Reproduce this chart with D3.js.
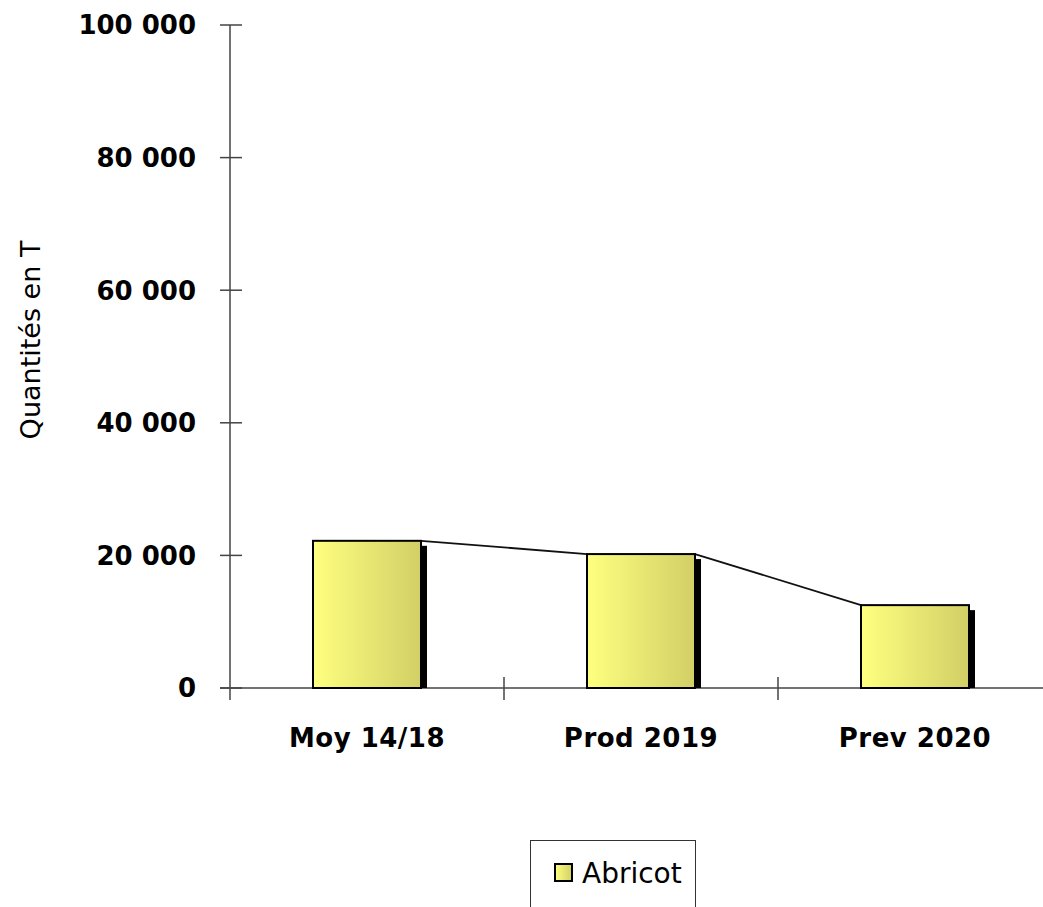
<!DOCTYPE html>
<html><head><meta charset="utf-8">
<script src="https://cdn.jsdelivr.net/npm/d3@7"></script>
<style>body{margin:0;background:#fff}svg{display:block}text{font-family:"Comic Sans MS","DejaVu Sans",sans-serif}</style>
</head><body>
<script>
const categories = ["Moy 14/18", "Prod 2019", "Prev 2020"];
const values = [22200, 20200, 12500];
const yTicks = [0, 20000, 40000, 60000, 80000, 100000];
const seriesName = "Abricot";
const yTitle = "Quantités en T";

const W = 1043, H = 907;
const svg = d3.select("body").append("svg").attr("width", W).attr("height", H);
const defs = svg.append("defs");
const grad = defs.append("linearGradient").attr("id", "g").attr("x1", "0%").attr("x2", "100%");
grad.append("stop").attr("offset", "0%").attr("stop-color", "#ffff80");
grad.append("stop").attr("offset", "100%").attr("stop-color", "#d2cf66");

const x = d3.scaleBand().domain(categories).range([230, 1052]).paddingInner(0).paddingOuter(0);
const y = d3.scaleLinear().domain([0, 100000]).range([688, 25]);
const fmt = v => d3.format(",")(v).replace(/,/g, " ");
const bw = 108;

// Y axis
svg.append("line").attr("x1", 230).attr("x2", 230).attr("y1", y(100000)).attr("y2", 700)
  .attr("stroke", "#444").attr("stroke-width", 1.5);
const yt = svg.append("g");
yTicks.forEach(t => {
  yt.append("line").attr("x1", 220).attr("x2", 242).attr("y1", y(t)).attr("y2", y(t))
    .attr("stroke", "#444").attr("stroke-width", 1.5);
  yt.append("text").attr("x", 196).attr("y", y(t)).attr("dy", "0.36em").attr("text-anchor", "end")
    .attr("font-size", 26).attr("font-weight", "bold").attr("fill", "#000").text(fmt(t));
});
// X axis
svg.append("line").attr("x1", 220).attr("x2", W).attr("y1", y(0)).attr("y2", y(0))
  .attr("stroke", "#444").attr("stroke-width", 1.5);
categories.slice(1).forEach(c => {
  svg.append("line").attr("x1", x(c)).attr("x2", x(c)).attr("y1", 677).attr("y2", 700)
    .attr("stroke", "#444").attr("stroke-width", 1.5);
});
categories.forEach(c => {
  svg.append("text").attr("x", x(c) + x.bandwidth() / 2).attr("y", 747).attr("text-anchor", "middle")
    .attr("font-size", 26).attr("letter-spacing", 0.5).attr("font-weight", "bold").attr("fill", "#000").text(c);
});

// Series lines
const pts = [];
categories.forEach((c, i) => {
  const cx = x(c) + x.bandwidth() / 2;
  if (i > 0) pts.push([cx - bw / 2, y(values[i])]);
  if (i < categories.length - 1) pts.push([cx + bw / 2, y(values[i])]);
});
for (let i = 0; i < pts.length; i += 2) {
  svg.append("line").attr("x1", pts[i][0]).attr("y1", pts[i][1]).attr("x2", pts[i + 1][0]).attr("y2", pts[i + 1][1])
    .attr("stroke", "#111").attr("stroke-width", 1.8);
}

// Bars with shadow
categories.forEach((c, i) => {
  const cx = x(c) + x.bandwidth() / 2;
  const top = y(values[i]);
  svg.append("rect").attr("x", cx - bw / 2 + 6).attr("y", top + 5).attr("width", bw).attr("height", y(0) - top - 5)
    .attr("fill", "#000");
  svg.append("rect").attr("x", cx - bw / 2).attr("y", top).attr("width", bw).attr("height", y(0) - top)
    .attr("fill", "url(#g)").attr("stroke", "#000").attr("stroke-width", 2);
});

// Y title
svg.append("text").attr("transform", "translate(40,340) rotate(-90)").attr("text-anchor", "middle")
  .attr("font-size", 27).attr("fill", "#000").text(yTitle);

// Legend
svg.append("rect").attr("x", 530.5).attr("y", 840.5).attr("width", 165).attr("height", 80)
  .attr("fill", "#fff").attr("stroke", "#333").attr("stroke-width", 1);
svg.append("rect").attr("x", 555).attr("y", 864).attr("width", 17).attr("height", 17)
  .attr("fill", "url(#g)").attr("stroke", "#000").attr("stroke-width", 2);
svg.append("text").attr("x", 582).attr("y", 873).attr("dy", "0.36em").attr("font-size", 28).attr("fill", "#000").text(seriesName);
</script>
</body></html>
